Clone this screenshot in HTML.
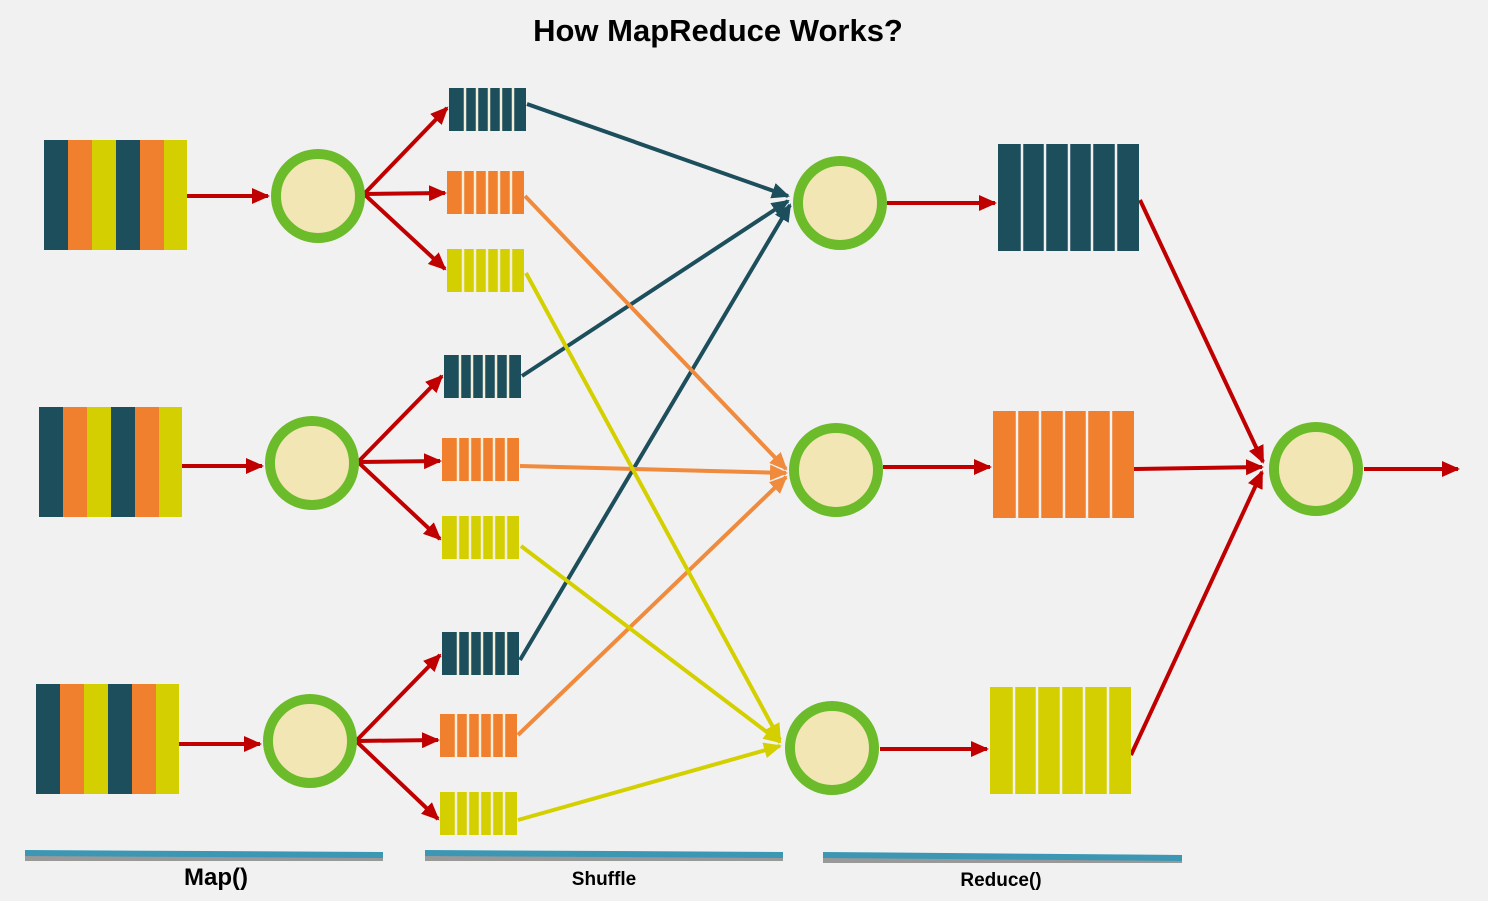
<!DOCTYPE html>
<html><head><meta charset="utf-8"><style>
html,body{margin:0;padding:0;background:#f1f1f1;}
svg{display:block}
text{font-family:"Liberation Sans",sans-serif;font-weight:bold;fill:#000}
</style></head><body>
<svg width="1488" height="901" viewBox="0 0 1488 901" xmlns="http://www.w3.org/2000/svg">
<defs>
<marker id="r" markerWidth="4.5" markerHeight="4" refX="4" refY="2" orient="auto" markerUnits="strokeWidth"><path d="M0,0 L4.5,2 L0,4 z" fill="#c00000"/></marker>
<marker id="t" markerWidth="4.5" markerHeight="4" refX="4" refY="2" orient="auto" markerUnits="strokeWidth"><path d="M0,0 L4.5,2 L0,4 z" fill="#1d4e5c"/></marker>
<marker id="o" markerWidth="4.5" markerHeight="4" refX="4" refY="2" orient="auto" markerUnits="strokeWidth"><path d="M0,0 L4.5,2 L0,4 z" fill="#f08a3c"/></marker>
<marker id="y" markerWidth="4.5" markerHeight="4" refX="4" refY="2" orient="auto" markerUnits="strokeWidth"><path d="M0,0 L4.5,2 L0,4 z" fill="#d4d000"/></marker>
<g id="in">
<rect x="0" y="0" width="24" height="110" fill="#1d4e5c"/><rect x="24" y="0" width="24" height="110" fill="#f07f2e"/><rect x="48" y="0" width="24" height="110" fill="#d4cf00"/><rect x="72" y="0" width="24" height="110" fill="#1d4e5c"/><rect x="96" y="0" width="24" height="110" fill="#f07f2e"/><rect x="120" y="0" width="23" height="110" fill="#d4cf00"/>
</g>
<g id="div" stroke="#f4efd8" stroke-width="2.5">
<line x1="16" y1="0" x2="16" y2="43"/><line x1="28" y1="0" x2="28" y2="43"/><line x1="40" y1="0" x2="40" y2="43"/><line x1="52" y1="0" x2="52" y2="43"/><line x1="64" y1="0" x2="64" y2="43"/>
</g>
<g id="st"><rect width="77" height="43" fill="#1d4e5c"/><use href="#div"/></g>
<g id="so"><rect width="77" height="43" fill="#f07f2e"/><use href="#div"/></g>
<g id="sy"><rect width="77" height="43" fill="#d4cf00"/><use href="#div"/></g>
<g id="bdiv" stroke="#f2f2f2" stroke-width="2.5">
<line x1="24" y1="0" x2="24" y2="107"/><line x1="47" y1="0" x2="47" y2="107"/><line x1="71" y1="0" x2="71" y2="107"/><line x1="94" y1="0" x2="94" y2="107"/><line x1="118" y1="0" x2="118" y2="107"/>
</g>
<g id="c"><circle r="42" fill="#f2e6b4" stroke="#6cbb2a" stroke-width="10"/></g>
</defs>

<text x="718" y="41" font-size="31" text-anchor="middle">How MapReduce Works?</text>

<use href="#in" x="44" y="140"/><use href="#in" x="39" y="407"/><use href="#in" x="36" y="684"/>

<g stroke-width="4" fill="none">
<line x1="527" y1="104" x2="788" y2="196" stroke="#1d4e5c" marker-end="url(#t)"/>
<line x1="522" y1="376" x2="788" y2="201" stroke="#1d4e5c" marker-end="url(#t)"/>
<line x1="520" y1="660" x2="790" y2="205" stroke="#1d4e5c" marker-end="url(#t)"/>
<line x1="525" y1="196" x2="786" y2="469" stroke="#f08a3c" marker-end="url(#o)"/>
<line x1="520" y1="466" x2="786" y2="473" stroke="#f08a3c" marker-end="url(#o)"/>
<line x1="518" y1="735" x2="786" y2="477" stroke="#f08a3c" marker-end="url(#o)"/>
<line x1="526" y1="273" x2="780" y2="740" stroke="#d4d000" marker-end="url(#y)"/>
<line x1="521" y1="546" x2="780" y2="742" stroke="#d4d000" marker-end="url(#y)"/>
<line x1="518" y1="820" x2="780" y2="746" stroke="#d4d000" marker-end="url(#y)"/>
</g>

<g stroke="#c00000" stroke-width="4" fill="none" marker-end="url(#r)">
<line x1="187" y1="196" x2="268" y2="196"/>
<line x1="182" y1="466" x2="262" y2="466"/>
<line x1="179" y1="744" x2="260" y2="744"/>
<line x1="364" y1="194" x2="447" y2="108"/>
<line x1="364" y1="194" x2="445" y2="193"/>
<line x1="364" y1="194" x2="445" y2="269"/>
<line x1="358" y1="462" x2="442" y2="376"/>
<line x1="358" y1="462" x2="440" y2="461"/>
<line x1="358" y1="462" x2="440" y2="539"/>
<line x1="356" y1="741" x2="440" y2="655"/>
<line x1="356" y1="741" x2="438" y2="740"/>
<line x1="356" y1="741" x2="438" y2="819"/>
<line x1="887" y1="203" x2="995" y2="203"/>
<line x1="883" y1="467" x2="990" y2="467"/>
<line x1="880" y1="749" x2="987" y2="749"/>
<line x1="1140" y1="200" x2="1263" y2="462"/>
<line x1="1134" y1="469" x2="1262" y2="467"/>
<line x1="1131" y1="755" x2="1262" y2="472"/>
<line x1="1364" y1="469" x2="1458" y2="469"/>
</g>

<use href="#st" x="449" y="88"/><use href="#so" x="447" y="171"/><use href="#sy" x="447" y="249"/>
<use href="#st" x="444" y="355"/><use href="#so" x="442" y="438"/><use href="#sy" x="442" y="516"/>
<use href="#st" x="442" y="632"/><use href="#so" x="440" y="714"/><use href="#sy" x="440" y="792"/>

<use href="#c" x="318" y="196"/><use href="#c" x="312" y="463"/><use href="#c" x="310" y="741"/>
<use href="#c" x="840" y="203"/><use href="#c" x="836" y="470"/><use href="#c" x="832" y="748"/>
<use href="#c" x="1316" y="469"/>

<rect x="998" y="144" width="141" height="107" fill="#1d4e5c"/><use href="#bdiv" x="998" y="144"/>
<rect x="993" y="411" width="141" height="107" fill="#f07f2e"/><use href="#bdiv" x="993" y="411"/>
<rect x="990" y="687" width="141" height="107" fill="#d4cf00"/><use href="#bdiv" x="990" y="687"/>

<g stroke-width="6">
<line x1="25" y1="858" x2="383" y2="858" stroke="#999"/>
<line x1="25" y1="853" x2="383" y2="855" stroke="#3b97b3"/>
<line x1="425" y1="858" x2="783" y2="858" stroke="#999"/>
<line x1="425" y1="853" x2="783" y2="855" stroke="#3b97b3"/>
<line x1="823" y1="860" x2="1182" y2="860" stroke="#999"/>
<line x1="823" y1="855" x2="1182" y2="858" stroke="#3b97b3"/>
</g>
<text x="216" y="885" font-size="24" text-anchor="middle">Map()</text>
<text x="604" y="885" font-size="19" text-anchor="middle">Shuffle</text>
<text x="1001" y="886" font-size="19" text-anchor="middle">Reduce()</text>
</svg>
</body></html>
